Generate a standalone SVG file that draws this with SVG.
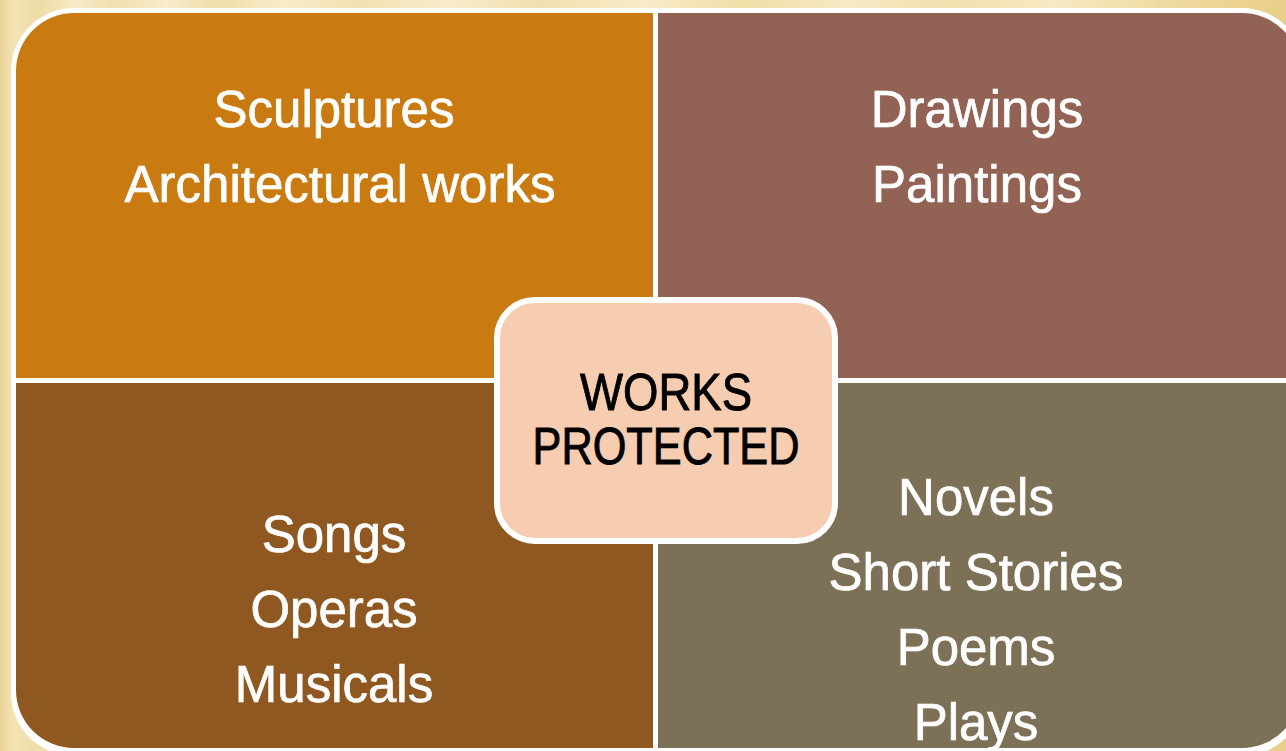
<svg xmlns="http://www.w3.org/2000/svg" width="1286" height="751" viewBox="0 0 1286 751">
  <defs>
    <!-- soft streaked parchment backdrop -->
    <linearGradient id="bgStreaks" x1="0" y1="0" x2="1" y2="0">
      <stop offset="0" stop-color="#E9D497"/>
      <stop offset="0.01" stop-color="#F4E4B4"/>
      <stop offset="0.03" stop-color="#EEDCA6"/>
      <stop offset="0.06" stop-color="#F7EAC6"/>
      <stop offset="0.09" stop-color="#F1E0AE"/>
      <stop offset="0.13" stop-color="#F8ECCA"/>
      <stop offset="0.17" stop-color="#F0DEA9"/>
      <stop offset="0.22" stop-color="#F8EBC8"/>
      <stop offset="0.28" stop-color="#F2E2B2"/>
      <stop offset="0.35" stop-color="#F8ECCA"/>
      <stop offset="0.42" stop-color="#F1E0AE"/>
      <stop offset="0.5" stop-color="#F8EBC8"/>
      <stop offset="0.58" stop-color="#F0DEA8"/>
      <stop offset="0.66" stop-color="#F7EAC5"/>
      <stop offset="0.74" stop-color="#F1E0AD"/>
      <stop offset="0.82" stop-color="#F7E9C3"/>
      <stop offset="0.9" stop-color="#EFDBA2"/>
      <stop offset="0.96" stop-color="#EBD392"/>
      <stop offset="1" stop-color="#E8CE88"/>
    </linearGradient>
    <clipPath id="panelClip">
      <rect x="16" y="13" width="1284" height="735" rx="58" ry="58"/>
    </clipPath>
    <style>
      .item { font-family: "Liberation Sans", Arial, sans-serif; font-size: 51px; fill: #FFFFFF; stroke: #FFFFFF; stroke-width: 0.7px; text-anchor: middle; }
      .hub { font-family: "Liberation Sans", Arial, sans-serif; font-size: 51px; fill: #000000; stroke: #000000; stroke-width: 0.9px; text-anchor: middle; }
      .hubBox { fill: #F6CDB0; stroke: #FFFFFF; stroke-width: 6; }
    </style>
  </defs>

  <!-- backdrop -->
  <rect x="0" y="0" width="1286" height="751" fill="url(#bgStreaks)"/>

  <!-- white frame around the four panels -->
  <rect x="11" y="8" width="1294" height="748" rx="63" ry="63" fill="#FFFFFF"/>

  <g id="panels" clip-path="url(#panelClip)">
    <g id="sculpture-architecture">
      <rect x="16" y="13" width="637" height="365" fill="#C97B11"/>
      <text class="item" x="334" y="127">Sculptures</text>
      <text class="item" x="340" y="202">Architectural works</text>
    </g>
    <g id="drawings-paintings">
      <rect x="658" y="13" width="642" height="365" fill="#926354"/>
      <text class="item" x="977" y="127">Drawings</text>
      <text class="item" x="977" y="202">Paintings</text>
    </g>
    <g id="music">
      <rect x="16" y="383" width="637" height="365" fill="#8F5821"/>
      <text class="item" x="334" y="552">Songs</text>
      <text class="item" x="334" y="627">Operas</text>
      <text class="item" x="334" y="702">Musicals</text>
    </g>
    <g id="literature">
      <rect x="658" y="383" width="642" height="365" fill="#7C7056"/>
      <text class="item" x="976" y="515">Novels</text>
      <text class="item" x="976" y="590">Short Stories</text>
      <text class="item" x="976" y="665">Poems</text>
      <text class="item" x="976" y="740">Plays</text>
    </g>
  </g>

  <g id="works-protected">
    <rect class="hubBox" x="497" y="300" width="338" height="241" rx="38" ry="38"/>
    <text class="hub" x="666" y="410" textLength="172" lengthAdjust="spacingAndGlyphs">WORKS</text>
    <text class="hub" x="666" y="464" textLength="267" lengthAdjust="spacingAndGlyphs">PROTECTED</text>
  </g>
</svg>
